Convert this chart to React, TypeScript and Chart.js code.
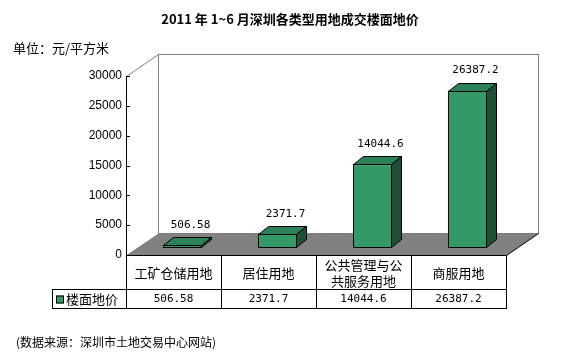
import React, { useEffect, useRef } from "react";
import { Chart, registerables } from "chart.js";

Chart.register(...registerables);

const chartTitle = "2011 年 1~6 月深圳各类型用地成交楼面地价";
const unitLabel = "单位：元/平方米";
const sourceNote = "(数据来源：深圳市土地交易中心网站)";
const categories: string[][] = [["工矿仓储用地"], ["居住用地"], ["公共管理与公", "共服务用地"], ["商服用地"]];
const seriesName = "楼面地价";
const values = [506.58, 2371.7, 14044.6, 26387.2];
const valueLabels = ["506.58", "2371.7", "14044.6", "26387.2"];
const yMin = 0;
const yMax = 30000;
const yStep = 5000;

const FRONT = "#339966";
const TOP = "#2b8259";
const SIDE = "#1e5038";
const CJK = '"Noto Sans CJK SC", "Noto Sans", sans-serif';
const MONO = '"DejaVu Sans Mono", monospace';

// 3D geometry (px)
const DX = 32, DY = 22; // floor / wall depth
const BX = 9, BY = 7; // bar plane offset from front plane
const BDX = 10, BDY = 8; // bar depth

const TABLE_SEP = 289;
const TABLE_BOTTOM = 308;
const LEGEND_LEFT = 52;

const excel3d = {
  id: "excel3d",
  beforeDatasetsDraw(chart: any) {
    const { ctx, chartArea: a } = chart;
    const L = Math.round(a.left), R = Math.round(a.right), T = Math.round(a.top), B = Math.round(a.bottom);
    ctx.save();
    // back wall
    ctx.fillStyle = "#ffffff";
    ctx.fillRect(L + DX, T - DY, R - L, B - T);
    ctx.strokeStyle = "#808080";
    ctx.lineWidth = 1;
    ctx.strokeRect(L + DX + 0.5, T - DY + 0.5, R - L, B - T);
    // left wall top diagonal
    ctx.beginPath();
    ctx.moveTo(L + 0.5, T + 0.5);
    ctx.lineTo(L + DX + 0.5, T - DY + 0.5);
    ctx.stroke();
    // floor
    ctx.fillStyle = "#808080";
    ctx.beginPath();
    ctx.moveTo(L, B + 0.5);
    ctx.lineTo(R + 0.5, B + 0.5);
    ctx.lineTo(R + DX + 0.5, B - DY + 0.5);
    ctx.lineTo(L + DX + 0.5, B - DY + 0.5);
    ctx.closePath();
    ctx.fill();
    ctx.strokeStyle = "#000";
    ctx.beginPath();
    ctx.moveTo(L, B + 0.5);
    ctx.lineTo(R + 0.5, B + 0.5);
    ctx.lineTo(R + DX + 0.5, B - DY + 0.5);
    ctx.stroke();
    // y axis line + ticks
    const ys = chart.scales.y;
    ctx.beginPath();
    ctx.moveTo(L + 0.5, T);
    ctx.lineTo(L + 0.5, TABLE_BOTTOM + 1);
    for (let v = yMin; v <= yMax; v += yStep) {
      const py = Math.round(ys.getPixelForValue(v)) + 0.5;
      ctx.moveTo(L, py);
      ctx.lineTo(L + 4, py);
    }
    ctx.stroke();
    ctx.restore();
    ctx.save();
    ctx.translate(BX, -BY);
  },
  afterDatasetsDraw(chart: any) {
    const { ctx } = chart;
    const meta = chart.getDatasetMeta(0);
    ctx.lineWidth = 1;
    ctx.strokeStyle = "#000";
    meta.data.forEach((bar: any) => {
      const p = bar.getProps(["x", "y", "base", "width"], true);
      const l = Math.round(p.x - p.width / 2) + 0.5;
      const r = Math.round(p.x + p.width / 2) - 0.5;
      const y = Math.round(p.y) + 0.5;
      const b = Math.round(p.base) - 0.5;
      ctx.beginPath();
      ctx.moveTo(l, y);
      ctx.lineTo(l + BDX, y - BDY);
      ctx.lineTo(r + BDX, y - BDY);
      ctx.lineTo(r, y);
      ctx.closePath();
      ctx.fillStyle = TOP;
      ctx.fill();
      ctx.stroke();
      ctx.beginPath();
      ctx.moveTo(r, y);
      ctx.lineTo(r + BDX, y - BDY);
      ctx.lineTo(r + BDX, b - BDY);
      ctx.lineTo(r, b);
      ctx.closePath();
      ctx.fillStyle = SIDE;
      ctx.fill();
      ctx.stroke();
    });
    // data labels
    ctx.fillStyle = "#000";
    ctx.font = `11px ${MONO}`;
    ctx.textAlign = "center";
    ctx.textBaseline = "middle";
    meta.data.forEach((bar: any, i: number) => {
      const p = bar.getProps(["x", "y"], true);
      ctx.fillText(valueLabels[i], p.x + 8, p.y - 20);
    });
    ctx.restore();
  },
  afterDraw(chart: any) {
    const { ctx, chartArea: a } = chart;
    const L = Math.round(a.left), R = Math.round(a.right), B = Math.round(a.bottom);
    const xs = chart.scales.x;
    ctx.save();
    ctx.strokeStyle = "#000";
    ctx.lineWidth = 1;
    // table grid
    ctx.beginPath();
    ctx.moveTo(LEGEND_LEFT, TABLE_SEP + 0.5);
    ctx.lineTo(R + 1, TABLE_SEP + 0.5);
    ctx.moveTo(LEGEND_LEFT, TABLE_BOTTOM + 0.5);
    ctx.lineTo(R + 1, TABLE_BOTTOM + 0.5);
    ctx.moveTo(LEGEND_LEFT + 0.5, TABLE_SEP);
    ctx.lineTo(LEGEND_LEFT + 0.5, TABLE_BOTTOM + 1);
    const n = categories.length;
    const colW = (R - L) / n;
    for (let i = 1; i <= n; i++) {
      const x = Math.round(L + colW * i) + 0.5;
      ctx.moveTo(x, B);
      ctx.lineTo(x, TABLE_BOTTOM + 1);
    }
    ctx.stroke();
    // category texts
    ctx.fillStyle = "#000";
    ctx.textAlign = "center";
    ctx.textBaseline = "middle";
    ctx.font = `13px ${CJK}`;
    const catMid = (B + TABLE_SEP) / 2 + 1;
    categories.forEach((lines, i) => {
      const cx = xs.getPixelForValue(i);
      const lh = 16;
      lines.forEach((t, j) => {
        ctx.fillText(t, cx, catMid + (j - (lines.length - 1) / 2) * lh);
      });
    });
    // values row
    ctx.font = `11px ${MONO}`;
    const valMid = (TABLE_SEP + TABLE_BOTTOM) / 2 + 1;
    valueLabels.forEach((t, i) => {
      ctx.fillText(t, xs.getPixelForValue(i), valMid);
    });
    // legend key
    ctx.fillStyle = FRONT;
    ctx.fillRect(56, valMid - 4, 8, 8);
    ctx.strokeRect(56.5, valMid - 3.5, 7, 7);
    ctx.fillStyle = "#000";
    ctx.textAlign = "left";
    ctx.font = `13px ${CJK}`;
    ctx.fillText(seriesName, 66, valMid);
    // title & notes
    ctx.textAlign = "center";
    ctx.font = `bold 13px ${CJK}`;
    ctx.fillText(chartTitle, 290, 19);
    ctx.textAlign = "left";
    ctx.font = `13px ${CJK}`;
    ctx.fillText(unitLabel, 13, 48);
    ctx.font = `12px ${CJK}`;
    ctx.fillText(sourceNote, 16, 342);
    ctx.restore();
  },
};

export default function App() {
  const ref = useRef<HTMLCanvasElement | null>(null);
  useEffect(() => {
    if (!ref.current) return;
    const chart = new Chart(ref.current, {
      type: "bar",
      data: {
        labels: categories.map((c) => c.join("")),
        datasets: [
          {
            label: seriesName,
            data: values,
            backgroundColor: FRONT,
            borderColor: "#000",
            borderWidth: 1,
            borderSkipped: false,
            barPercentage: 39 / 95,
            categoryPercentage: 1,
          },
        ],
      },
      options: {
        responsive: false,
        animation: false,
        devicePixelRatio: 1,
        layout: { padding: { left: 0, right: 68, top: 76, bottom: 104 } },
        plugins: { legend: { display: false }, title: { display: false }, tooltip: { enabled: false } },
        scales: {
          x: { display: false },
          y: {
            min: yMin,
            max: yMax,
            ticks: {
              stepSize: yStep,
              padding: 4,
              color: "#000",
              font: { family: '"Liberation Sans", Arial, sans-serif', size: 12 },
              callback: (v: any) => String(v),
            },
            grid: { display: false, drawTicks: false },
            border: { display: false },
            afterFit: (s: any) => {
              s.width = 126;
            },
          },
        },
      },
      plugins: [excel3d],
    });
    return () => chart.destroy();
  }, []);
  return (
    <div style={{ position: "absolute", left: 0, top: 0, width: 574, height: 359, background: "#fff" }}>
      <canvas ref={ref} width={574} height={359} style={{ display: "block" }} />
    </div>
  );
}
